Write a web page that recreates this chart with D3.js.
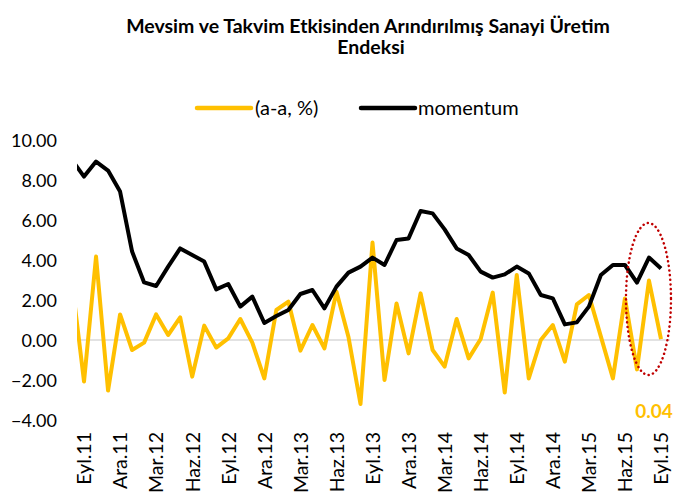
<!DOCTYPE html>
<html>
<head>
<meta charset="utf-8">
<script src="https://cdn.jsdelivr.net/npm/d3@7"></script>
<style>
  body { margin: 0; background: #fff; }
  text { font-family: Lato, "Open Sans", sans-serif; }
</style>
</head>
<body>
<div class="chart"></div>
<script>
// months, Ağu.11 (clipped at the left edge) .. Eyl.15
const months = [
    'Ağu.11', 'Eyl.11', 'Eki.11', 'Kas.11', 'Ara.11',
    'Oca.12', 'Şub.12', 'Mar.12', 'Nis.12', 'May.12', 'Haz.12', 'Tem.12', 'Ağu.12', 'Eyl.12', 'Eki.12', 'Kas.12', 'Ara.12',
    'Oca.13', 'Şub.13', 'Mar.13', 'Nis.13', 'May.13', 'Haz.13', 'Tem.13', 'Ağu.13', 'Eyl.13', 'Eki.13', 'Kas.13', 'Ara.13',
    'Oca.14', 'Şub.14', 'Mar.14', 'Nis.14', 'May.14', 'Haz.14', 'Tem.14', 'Ağu.14', 'Eyl.14', 'Eki.14', 'Kas.14', 'Ara.14',
    'Oca.15', 'Şub.15', 'Mar.15', 'Nis.15', 'May.15', 'Haz.15', 'Tem.15', 'Ağu.15', 'Eyl.15'
];

const yoy = [
    2.9, -2.08, 4.17, -2.53, 1.28,
    -0.5, -0.13, 1.28, 0.25, 1.13, -1.83, 0.72, -0.38, 0.08, 1.05, -0.13, -1.92,
    1.5, 1.92, -0.53, 0.75, -0.42, 2.42, 0.15, -3.2, 4.87, -2.0, 1.83, -0.67,
    2.33, -0.5, -1.33, 1.05, -0.92, 0.05, 2.37, -2.63, 3.25, -1.92, 0.0, 0.75,
    -1.08, 1.78, 2.25, 0.17, -1.92, 2.08, -1.47, 2.97, 0.04
];

const momentum = [
    9.0, 8.17, 8.92, 8.47, 7.42,
    4.42, 2.88, 2.7, 3.67, 4.58, 4.25, 3.92, 2.53, 2.8, 1.67, 2.17, 0.85,
    1.2, 1.5, 2.3, 2.5, 1.58, 2.67, 3.37, 3.67, 4.12, 3.75, 5.0, 5.08,
    6.45, 6.33, 5.53, 4.58, 4.25, 3.42, 3.12, 3.28, 3.67, 3.33, 2.25, 2.08,
    0.78, 0.88, 1.67, 3.25, 3.75, 3.75, 2.87, 4.12, 3.58
];

const yTicks = [-4, -2, 0, 2, 4, 6, 8, 10];
const xTickLabels = months.filter((m, i) => i >= 1 && (i - 1) % 3 === 0);

const series = [
    { name: '(a-a, %)', color: '#FFC000', values: yoy },
    { name: 'momentum', color: '#000000', values: momentum }
];

document.addEventListener('DOMContentLoaded', function () {
    const width = 673, height = 495;

    const svg = d3.select('.chart')
        .append('svg')
        .attr('width', width)
        .attr('height', height);

    const x = d3.scalePoint()
        .domain(months)
        .range([72, 661]);

    const y = d3.scaleLinear()
        .domain([-4, 10])
        .range([420, 140]);

    const plotLeft = 77, plotRight = 673;

    svg.append('clipPath')
        .attr('id', 'plot-clip')
        .append('rect')
        .attr('x', plotLeft)
        .attr('y', 120)
        .attr('width', plotRight - plotLeft)
        .attr('height', 320);

    // title
    const title = svg.append('text')
        .attr('text-anchor', 'middle')
        .attr('font-weight', 'bold')
        .attr('font-size', 19.5)
        .attr('fill', '#000');
    title.append('tspan').attr('x', 368).attr('y', 33)
        .text('Mevsim ve Takvim Etkisinden Arındırılmış Sanayi Üretim');
    title.append('tspan').attr('x', 371).attr('y', 54)
        .text('Endeksi');

    // legend
    const legendPos = [{ x: 197, tx: 255 }, { x: 361, tx: 418 }];
    const legend = svg.selectAll('g.legend')
        .data(series)
        .enter()
        .append('g')
        .attr('class', 'legend');
    legend.append('line')
        .attr('x1', (d, i) => legendPos[i].x)
        .attr('x2', (d, i) => legendPos[i].x + 54)
        .attr('y1', 108)
        .attr('y2', 108)
        .attr('stroke', d => d.color)
        .attr('stroke-width', 4.5)
        .attr('stroke-linecap', 'round');
    legend.append('text')
        .attr('x', (d, i) => legendPos[i].tx)
        .attr('y', 115)
        .attr('font-size', 20)
        .attr('fill', '#000')
        .text(d => d.name);

    // y axis labels, no line
    svg.append('g')
        .attr('transform', `translate(${plotLeft - 20},0)`)
        .call(d3.axisLeft(y).tickValues(yTicks).tickFormat(d3.format('.2f')).tickSize(0).tickPadding(0))
        .call(g => g.select('.domain').remove())
        .call(g => g.selectAll('text')
            .attr('font-family', 'Lato, "Open Sans", sans-serif')
            .attr('font-size', 18)
            .attr('fill', '#000')
            .attr('dy', '0.35em'));

    // zero line
    svg.append('line')
        .attr('x1', plotLeft)
        .attr('x2', 670)
        .attr('y1', y(0))
        .attr('y2', y(0))
        .attr('stroke', '#D9D9D9')
        .attr('stroke-width', 1.5);

    // x axis labels, rotated
    svg.append('g')
        .attr('transform', 'translate(0,432)')
        .call(d3.axisBottom(x).tickValues(xTickLabels).tickSize(0).tickPadding(0))
        .call(g => g.select('.domain').remove())
        .call(g => g.selectAll('text')
            .attr('font-family', 'Lato, "Open Sans", sans-serif')
            .attr('font-size', 19.5)
            .attr('fill', '#000')
            .attr('text-anchor', 'end')
            .attr('transform', 'rotate(-90)')
            .attr('x', 0)
            .attr('y', 0)
            .attr('dx', 0)
            .attr('dy', '0.35em'));

    const line = d3.line()
        .x((d, i) => x(months[i]))
        .y(d => y(d));

    svg.append('g')
        .attr('clip-path', 'url(#plot-clip)')
        .selectAll('path.series')
        .data(series)
        .enter()
        .append('path')
        .attr('class', 'series')
        .attr('d', d => line(d.values))
        .attr('fill', 'none')
        .attr('stroke', d => d.color)
        .attr('stroke-width', 4)
        .attr('stroke-linejoin', 'round');

    // dotted ellipse around last three months
    const last = months.length - 1;
    svg.append('ellipse')
        .attr('cx', (x(months[last - 2]) + x(months[last])) / 2 - 0.5)
        .attr('cy', y(2.05))
        .attr('rx', 22.5)
        .attr('ry', 76)
        .attr('fill', 'none')
        .attr('stroke', '#C00000')
        .attr('stroke-width', 2.5)
        .attr('stroke-dasharray', '0.1 4.5')
        .attr('stroke-linecap', 'round');

    // last value label
    svg.append('text')
        .attr('x', x(months[last]) - 7)
        .attr('y', 418)
        .attr('text-anchor', 'middle')
        .attr('font-weight', 'bold')
        .attr('font-size', 19)
        .attr('fill', '#FFC000')
        .text(d3.format('.2f')(yoy[last]));
});
</script>
</body>
</html>
